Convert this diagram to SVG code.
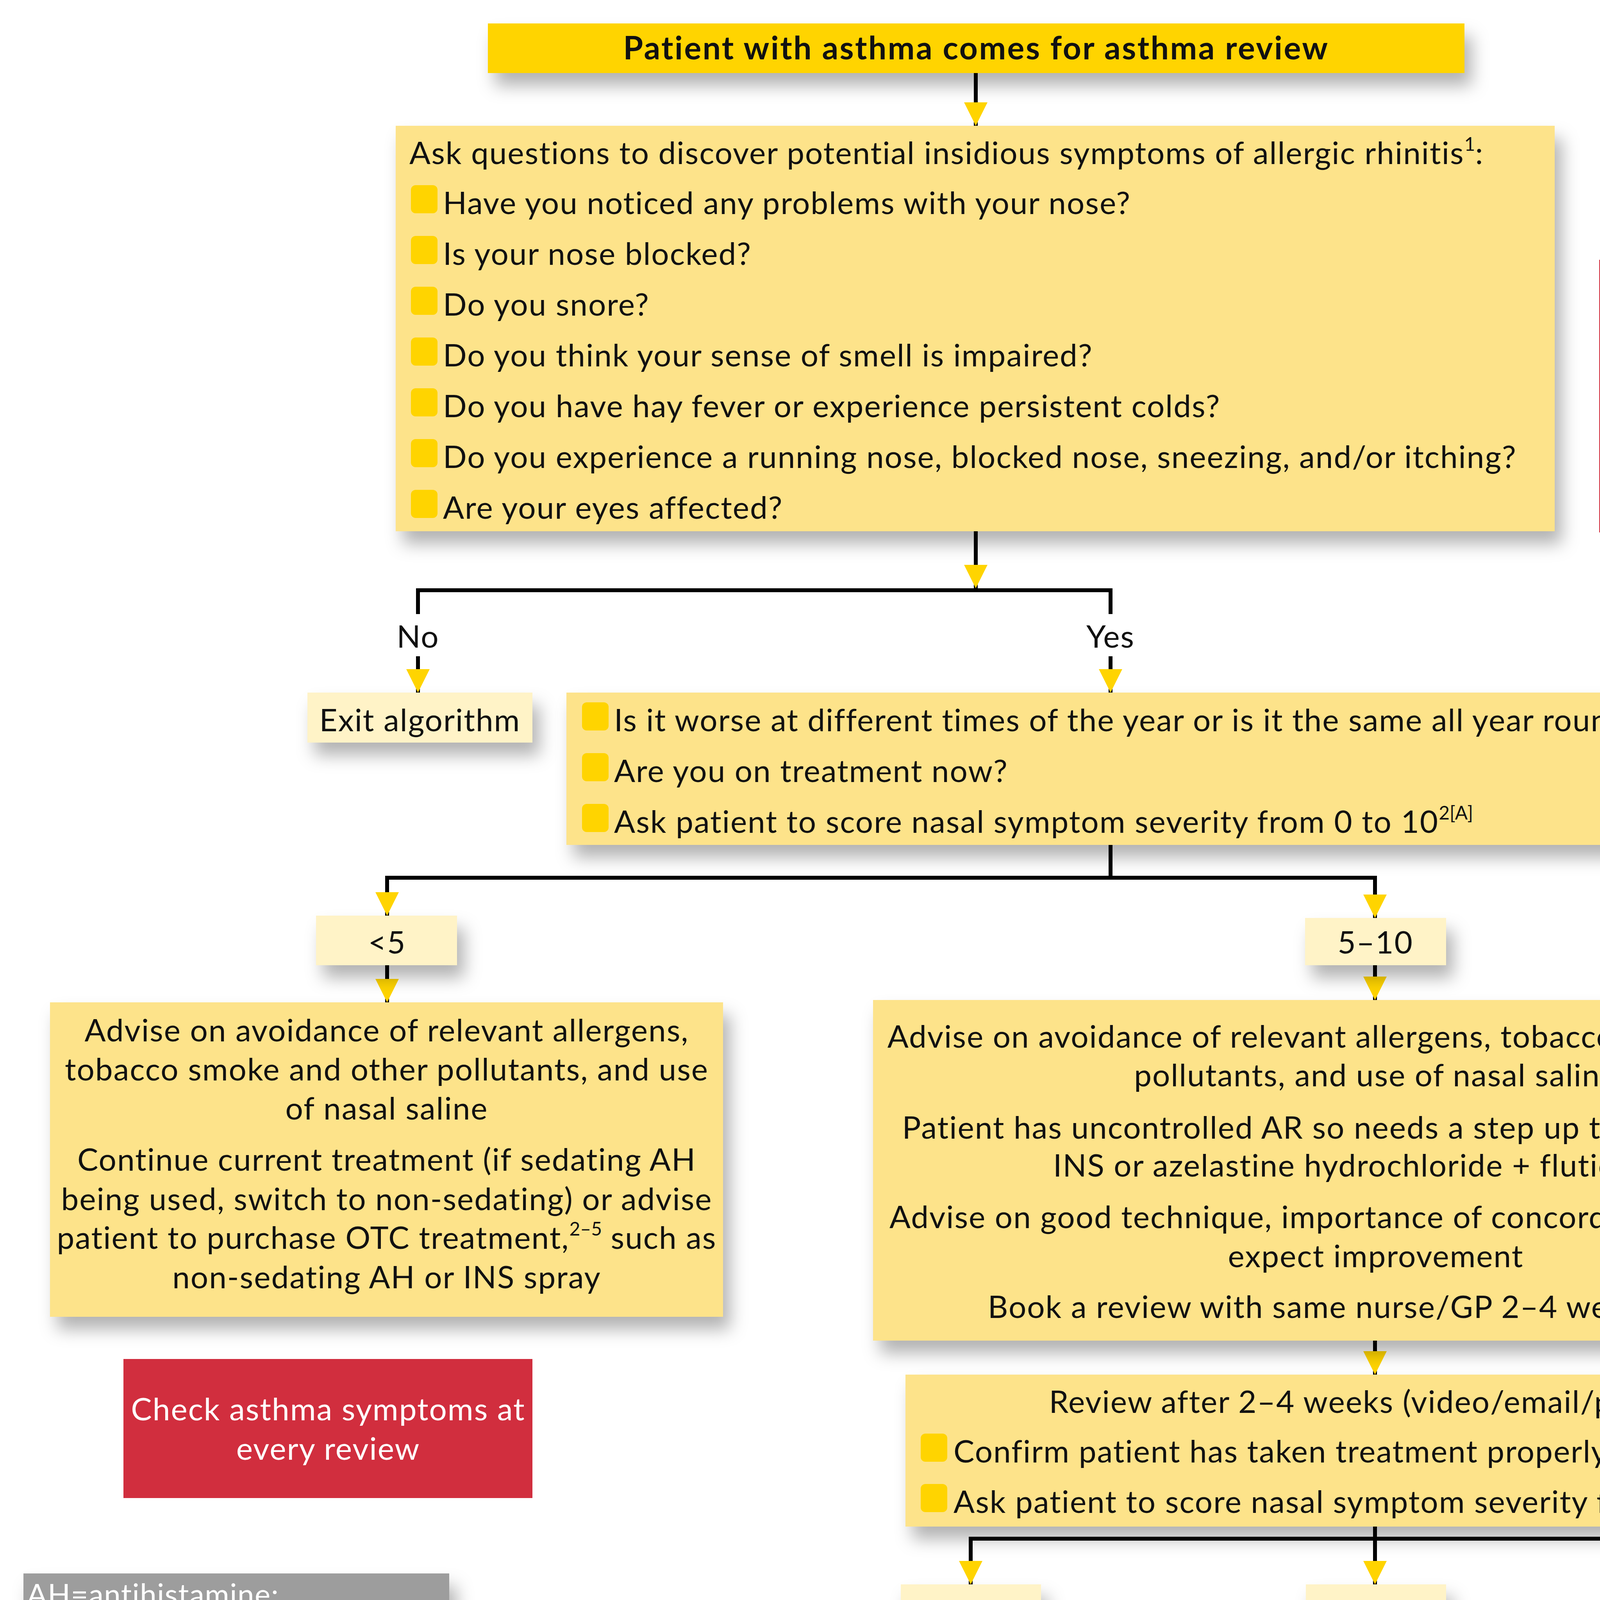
<svg xmlns="http://www.w3.org/2000/svg" width="5000" height="5946" viewBox="0 0 5000 5946">
<defs>
<style>
.t{font-family:Lato,"Noto Sans","DejaVu Sans",sans-serif;font-size:80px;fill:#111;letter-spacing:2px}
.c{text-anchor:middle}
.w{fill:#fff}
.b{font-weight:700;font-size:82px;letter-spacing:3.5px}
.g{font-size:76px;fill:#fff;letter-spacing:1.5px}
.sup{font-size:48px;letter-spacing:0}
.ln{fill:none;stroke:#000;stroke-width:10}
.ar{fill:none;stroke:#000;stroke-width:10;marker-end:url(#ah)}
.top{fill:#FFD400}
.box{fill:#FDE38A}
.lt{fill:#FFF3C7}
.red{fill:#D12E3E}
.gray{fill:#9D9D9D}
.bul{fill:#FFD400}
.pbul{fill:#E9A19B}
</style>
<filter id="sh" x="-20%" y="-30%" width="150%" height="200%">
<feDropShadow dx="18" dy="32" stdDeviation="22" flood-color="#000" flood-opacity="0.3"/>
</filter>
<marker id="ah" markerUnits="userSpaceOnUse" viewBox="0 0 60 60" markerWidth="60" markerHeight="60" refX="60" refY="30" orient="auto">
<path d="M0,0 L60,30 L0,60 Z" fill="#FFD400"/>
</marker>
</defs>
<rect width="5000" height="5946" fill="#fff"/>

<g id="connectors">
<line class="ar" x1="2498" y1="187" x2="2498" y2="322"/>
<line class="ar" x1="2498" y1="1360" x2="2498" y2="1506"/>
<path class="ln" d="M1070,1572 V1511 H2843 V1572"/>
<line class="ar" x1="1070" y1="1680" x2="1070" y2="1773"/>
<line class="ar" x1="2843" y1="1680" x2="2843" y2="1773"/>
<line class="ln" x1="2843" y1="2163" x2="2843" y2="2247"/>
<path class="ln" d="M991,2290 V2247 H3520 V2290"/>
<line class="ar" x1="991" y1="2247" x2="991" y2="2344"/>
<line class="ar" x1="3520" y1="2247" x2="3520" y2="2350"/>
<line class="ar" x1="991" y1="2471" x2="991" y2="2566"/>
<line class="ar" x1="3520" y1="2471" x2="3520" y2="2560"/>
<line class="ar" x1="3520" y1="3432" x2="3520" y2="3519"/>
<line class="ln" x1="3520" y1="3908" x2="3520" y2="3939"/>
<path class="ln" d="M2485,3990 V3939 H4443 V3990"/>
<line class="ar" x1="2485" y1="3939" x2="2485" y2="4056"/>
<line class="ar" x1="3520" y1="3939" x2="3520" y2="4056"/>
<line class="ar" x1="4443" y1="3939" x2="4443" y2="4056"/>
<line class="ar" x1="2485" y1="4184" x2="2485" y2="4309"/>
<line class="ar" x1="3520" y1="4184" x2="3520" y2="4309"/>
<line class="ar" x1="4443" y1="4184" x2="4443" y2="4309"/>
<line class="ar" x1="2485" y1="4779" x2="2485" y2="4912"/>
<path class="ar" d="M3521,4839 V5027 H3117"/>
<line class="ln" x1="2485" y1="5141" x2="2485" y2="5235"/>
<path class="ln" d="M1806,5300 V5235 H3163 V5300"/>
<line class="ar" x1="1806" y1="5235" x2="1806" y2="5399"/>
<line class="ar" x1="3163" y1="5235" x2="3163" y2="5399"/>
<line class="ar" x1="1806" y1="5527" x2="1806" y2="5657"/>
<line class="ar" x1="3163" y1="5527" x2="3163" y2="5657"/>
<text class="t c" x="1070" y="1658">No</text>
<text class="t c" x="2843" y="1658">Yes</text>
</g>

<g id="n-start">
<rect class="top" x="1249" y="60" width="2500" height="127" filter="url(#sh)"/>
<text class="t c b" x="2499" y="152">Patient with asthma comes for asthma review</text>
</g>

<g id="n-questions">
<rect class="box" x="1013" y="322" width="2967" height="1038" filter="url(#sh)"/>
<text class="t" x="1048" y="420">Ask questions to discover potential insidious symptoms of allergic rhinitis<tspan class="sup" dy="-34">1</tspan><tspan dy="34">:</tspan></text>
<rect class="bul" x="1052" y="474" width="68" height="72" rx="12"/>
<text class="t" x="1134" y="548">Have you noticed any problems with your nose?</text>
<rect class="bul" x="1052" y="604" width="68" height="72" rx="12"/>
<text class="t" x="1134" y="678">Is your nose blocked?</text>
<rect class="bul" x="1052" y="734" width="68" height="72" rx="12"/>
<text class="t" x="1134" y="808">Do you snore?</text>
<rect class="bul" x="1052" y="864" width="68" height="72" rx="12"/>
<text class="t" x="1134" y="938">Do you think your sense of smell is impaired?</text>
<rect class="bul" x="1052" y="994" width="68" height="72" rx="12"/>
<text class="t" x="1134" y="1068">Do you have hay fever or experience persistent colds?</text>
<rect class="bul" x="1052" y="1124" width="68" height="72" rx="12"/>
<text class="t" x="1134" y="1198">Do you experience a running nose, blocked nose, sneezing, and/or itching?</text>
<rect class="bul" x="1052" y="1254" width="68" height="72" rx="12"/>
<text class="t" x="1134" y="1328">Are your eyes affected?</text>
</g>

<g id="n-redflags">
<rect class="red" x="4094" y="665" width="801" height="698"/>
<text class="t w" x="4105" y="749">Red flags—urgent</text>
<text class="t w" x="4105" y="849">referral to ENT<tspan class="sup" dy="-34">1,3</tspan><tspan dy="34">:</tspan></text>
<rect class="pbul" x="4108" y="903" width="70" height="70" rx="12"/>
<text class="t w" x="4195" y="980">Nasal pain</text>
<rect class="pbul" x="4108" y="1033" width="70" height="70" rx="12"/>
<text class="t w" x="4195" y="1110">Unilateral</text>
<text class="t w" x="4195" y="1210">symptoms</text>
<rect class="pbul" x="4108" y="1263" width="70" height="70" rx="12"/>
<text class="t w" x="4195" y="1340">Heavy bleeding</text>
</g>

<g id="n-exit">
<rect class="lt" x="787" y="1773" width="576" height="128" filter="url(#sh)"/>
<text class="t c" x="1075" y="1872">Exit algorithm</text>
</g>

<g id="n-yes">
<rect class="box" x="1450" y="1773" width="2841" height="390" filter="url(#sh)"/>
<rect class="bul" x="1490" y="1798" width="68" height="72" rx="12"/>
<text class="t" x="1572" y="1872">Is it worse at different times of the year or is it the same all year round?</text>
<rect class="bul" x="1490" y="1928" width="68" height="72" rx="12"/>
<text class="t" x="1572" y="2002">Are you on treatment now?</text>
<rect class="bul" x="1490" y="2058" width="68" height="72" rx="12"/>
<text class="t" x="1572" y="2132">Ask patient to score nasal symptom severity from 0 to 10<tspan class="sup" dy="-34">2[A]</tspan></text>
</g>

<g id="n-lt5">
<rect class="lt" x="809" y="2344" width="361" height="127" filter="url(#sh)"/>
<text class="t c" x="991" y="2441">&lt;5</text>
</g>

<g id="n-5to10">
<rect class="lt" x="3341" y="2350" width="361" height="121" filter="url(#sh)"/>
<text class="t c" x="3521" y="2441">5–10</text>
</g>

<g id="n-left-advice">
<rect class="box" x="128" y="2566" width="1723" height="805" filter="url(#sh)"/>
<text class="t c" x="990" y="2666">Advise on avoidance of relevant allergens,</text>
<text class="t c" x="990" y="2766">tobacco smoke and other pollutants, and use</text>
<text class="t c" x="990" y="2866">of nasal saline</text>
<text class="t c" x="990" y="2997">Continue current treatment (if sedating AH</text>
<text class="t c" x="990" y="3098">being used, switch to non-sedating) or advise</text>
<text class="t c" x="990" y="3197">patient to purchase OTC treatment,<tspan class="sup" dy="-34">2–5</tspan><tspan dy="34"> such as</tspan></text>
<text class="t c" x="990" y="3298">non-sedating AH or INS spray</text>
</g>

<g id="n-check-asthma">
<rect class="red" x="316" y="3479" width="1047" height="356"/>
<text class="t c w" x="840" y="3636">Check asthma symptoms at</text>
<text class="t c w" x="840" y="3737">every review</text>
</g>

<g id="n-right-advice">
<rect class="box" x="2235" y="2560" width="2575" height="872" filter="url(#sh)"/>
<text class="t c" x="3522" y="2682">Advise on avoidance of relevant allergens, tobacco smoke and other</text>
<text class="t c" x="3522" y="2781">pollutants, and use of nasal saline</text>
<text class="t c" x="3522" y="2915">Patient has uncontrolled AR so needs a step up therapy. Prescribe</text>
<text class="t c" x="3522" y="3012">INS or azelastine hydrochloride + fluticasone</text>
<text class="t c" x="3522" y="3144">Advise on good technique, importance of concordance and when to</text>
<text class="t c" x="3522" y="3244">expect improvement</text>
<text class="t c" x="3522" y="3374">Book a review with same nurse/GP 2–4 weeks later<tspan class="sup" dy="-34">2–5</tspan></text>
</g>

<g id="n-review1">
<rect class="box" x="2318" y="3519" width="2372" height="389" filter="url(#sh)"/>
<text class="t c" x="3510" y="3617">Review after 2–4 weeks (video/email/phone)</text>
<rect class="bul" x="2357" y="3670" width="68" height="72" rx="12"/>
<text class="t" x="2441" y="3744">Confirm patient has taken treatment properly<tspan class="sup" dy="-34">2–6</tspan></text>
<rect class="bul" x="2357" y="3799" width="68" height="72" rx="12"/>
<text class="t" x="2441" y="3873">Ask patient to score nasal symptom severity from 0 to 10<tspan class="sup" dy="-34">2[A]</tspan></text>
</g>

<g id="n-r-lt5">
<rect class="lt" x="2306" y="4056" width="359" height="128" filter="url(#sh)"/>
<text class="t c" x="2485" y="4153">&lt;5</text>
</g>
<g id="n-r-5to7">
<rect class="lt" x="3343" y="4056" width="359" height="128" filter="url(#sh)"/>
<text class="t c" x="3522" y="4153">5–7</text>
</g>
<g id="n-r-8to10">
<rect class="lt" x="4263" y="4056" width="359" height="128" filter="url(#sh)"/>
<text class="t c" x="4442" y="4153">8–10</text>
</g>

<g id="n-stepdown">
<rect class="box" x="2001" y="4309" width="967" height="470" filter="url(#sh)"/>
<text class="t c" x="2485" y="4406">Step down to or</text>
<text class="t c" x="2485" y="4505">continue on once-daily</text>
<text class="t c" x="2485" y="4605">non-systemically</text>
<text class="t c" x="2485" y="4706">bioavailable INS<tspan class="sup" dy="-34">[B]</tspan></text>
</g>

<g id="n-switch">
<rect class="box" x="3056" y="4309" width="929" height="530" filter="url(#sh)"/>
<text class="t c" x="3521" y="4406">Switch to INS/AH</text>
<text class="t c" x="3521" y="4505">combination if on INS</text>
<text class="t c" x="3521" y="4605">alone, or consider add-</text>
<text class="t c" x="3521" y="4706">on therapy according</text>
<text class="t c" x="3521" y="4806">to guidelines<tspan class="sup" dy="-34">4</tspan></text>
</g>

<g id="n-consider">
<rect class="box" x="4075" y="4309" width="733" height="329" filter="url(#sh)"/>
<text class="t c" x="4441" y="4406">Consider referral</text>
<text class="t c" x="4441" y="4505">to ENT specialist</text>
<text class="t c" x="4441" y="4605">or allergist</text>
</g>

<g id="n-review2">
<rect class="box" x="1853" y="4912" width="1264" height="229" filter="url(#sh)"/>
<text class="t c" x="2485" y="5012">Review after 2–4 weeks</text>
<text class="t c" x="2485" y="5111">according to practice availability</text>
</g>

<g id="n-controlled">
<rect class="lt" x="1257" y="5399" width="1092" height="128" filter="url(#sh)"/>
<text class="t c" x="1803" y="5494">Allergic rhinitis is controlled</text>
</g>

<g id="n-lost">
<rect class="lt" x="2726" y="5399" width="876" height="128" filter="url(#sh)"/>
<text class="t c" x="3164" y="5494">Treatment control lost</text>
</g>

<g id="n-review3">
<rect class="box" x="1476" y="5657" width="661" height="229" filter="url(#sh)"/>
<text class="t c" x="1806" y="5754">Review in 6–12</text>
<text class="t c" x="1806" y="5853">months</text>
</g>

<g id="n-stepup">
<rect class="box" x="2524" y="5657" width="1278" height="229" filter="url(#sh)"/>
<text class="t c" x="3163" y="5754">Step up again or consider</text>
<text class="t c" x="3163" y="5853">referral if on maximal therapy</text>
</g>

<g id="n-legend">
<rect class="gray" x="60" y="4028" width="1090" height="1856" filter="url(#sh)"/>
<text class="t g" x="69" y="4109">AH=antihistamine;</text>
<text class="t g" x="69" y="4205">AR=allergic rhinitis;</text>
<text class="t g" x="69" y="4298">ENT=ear, nose, and throat;</text>
<text class="t g" x="69" y="4391">INS=intranasal corticosteroid;</text>
<text class="t g" x="69" y="4487">OTC=over the counter</text>
<text class="t g" x="69" y="4609">[A] Visual analogue scale</text>
<text class="t g" x="69" y="4705">is a scoring system that</text>
<text class="t g" x="69" y="4799">allows easy measurement</text>
<text class="t g" x="69" y="4895">of symptoms (0 = not at all</text>
<text class="t g" x="69" y="4991">bothersome; 10 = extremely</text>
<text class="t g" x="69" y="5084">bothersome)</text>
<text class="t g" x="69" y="5206">[B] Minimally bioavailable</text>
<text class="t g" x="69" y="5302">INS: fluticasone propionate,</text>
<text class="t g" x="69" y="5396">fluticasone furoate,</text>
<text class="t g" x="69" y="5492">mometasone furoate</text>
<text class="t g" x="69" y="5616">MASK-air app:</text>
<text class="t g" x="69" y="5710">www.mask-air.com</text>
</g>
</svg>
